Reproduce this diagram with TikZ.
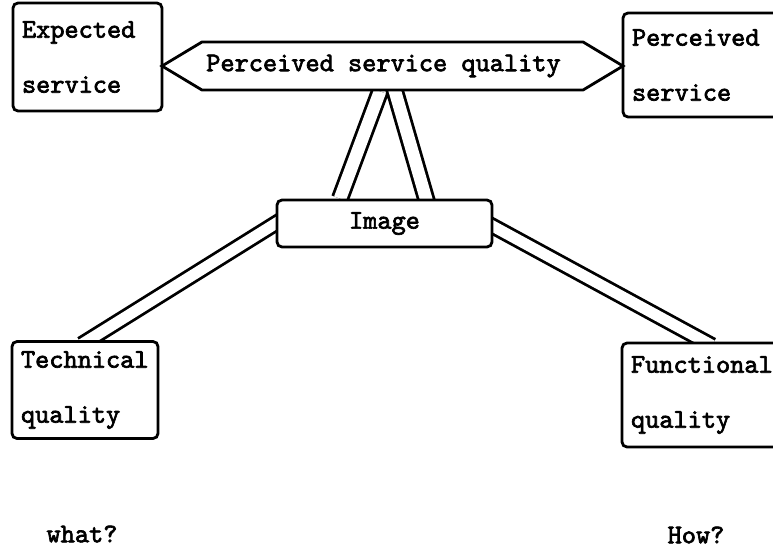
\documentclass[tikz,border=0pt]{standalone}
\usepackage{fontspec}
\usepackage{tikz}
\usetikzlibrary{shapes.symbols,backgrounds}
\newfontfamily\typewriter[Extension = .otf, FakeBold = 2.5]{lmmono10-regular}

\begin{document}
\begin{tikzpicture}[x=1pt,y=-1pt,line width=2.8pt,
    txt/.style = {font = \typewriter\fontsize{27}{55}\selectfont},
    box/.style = {txt, draw, fill = white, rounded corners = 5pt, inner xsep = 9pt, align = left},
    band/.style = {line width = 2.8pt, double, double distance = #1, shorten >= -8pt, shorten <= -8pt}]
    \useasboundingbox (0,0) rectangle (773,551);
    \clip (0,0) rectangle (773,551);
    \node[box, minimum width = 149pt, minimum height = 108pt, text width = 131pt] (es) at (87.5,57) {Expected\\service};
    \node[box, minimum width = 160pt, minimum height = 104pt, text width = 142pt] (ps) at (703,65) {Perceived\\service};
    \node[txt, draw, fill = white, signal, signal to = west and east, signal pointer angle = 62,
        minimum height = 48pt, minimum width = 461pt, inner sep = 0pt] (psq) at (392.5,66) {\hspace*{-18pt}Perceived service quality};
    \node[box, minimum width = 215pt, minimum height = 47pt] (img) at (384.5,223.5) {Image};
    \node[box, minimum width = 146pt, minimum height = 97pt, text width = 128pt] (tq) at (85,390) {Technical\\quality};
    \node[box, minimum width = 160pt, minimum height = 104pt, text width = 142pt] (fq) at (702,395) {Functional\\quality};
    \node[txt] (what) at (82,534) {what?};
    \node[txt] (how) at (696,535) {How?};
    \begin{scope}[on background layer]
    \draw[band = 11pt] (img.west) -- ([xshift = 3.5pt]tq.north);
    \draw[band = 11pt] ([yshift = -3pt]img.east) -- ([xshift = 3pt]fq.north);
    \draw[band = 12.5pt] ([xshift = -44.5pt]img.north) -- ([xshift = -12.5pt]psq.south)
        ([xshift = 41.5pt]img.north) -- ([xshift = 2.5pt]psq.south);
    \end{scope}
\end{tikzpicture}
\end{document}
